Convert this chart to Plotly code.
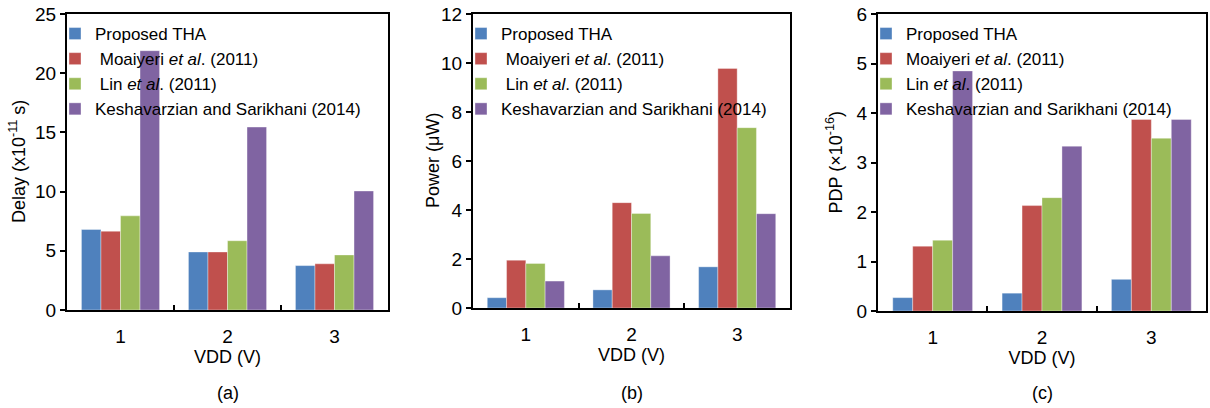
import plotly.graph_objects as go

# ---- data ----
vdd = ["1", "2", "3"]
series_names = [
    "Proposed THA",
    "\u00a0Moaiyeri <i>et al</i>. (2011)",
    "\u00a0Lin <i>et al</i>. (2011)",
    "Keshavarzian and Sarikhani (2014)",
]
series_names_c = [
    "Proposed THA",
    "Moaiyeri <i>et al</i>. (2011)",
    "Lin <i>et al</i>. (2011)",
    "Keshavarzian and Sarikhani (2014)",
]
colors = ["#4F81BD", "#C0504D", "#9BBB59", "#8064A2"]

delay_proposed = [6.8, 4.9, 3.75]
delay_moaiyeri = [6.65, 4.9, 3.9]
delay_lin = [7.95, 5.85, 4.65]
delay_kesh = [21.9, 15.45, 10.05]

power_proposed = [0.42, 0.74, 1.68]
power_moaiyeri = [1.95, 4.3, 9.78]
power_lin = [1.82, 3.86, 7.36]
power_kesh = [1.1, 2.13, 3.85]

pdp_proposed = [0.27, 0.36, 0.64]
pdp_moaiyeri = [1.31, 2.13, 3.87]
pdp_lin = [1.43, 2.29, 3.49]
pdp_kesh = [4.85, 3.33, 3.87]

ytitles = ["Delay (x10<sup>-11</sup> s)", "Power (μW)", "PDP (×10<sup>-16</sup>)"]
xtitle = "VDD (V)"
captions = ["(a)", "(b)", "(c)"]

panels = [
    ("x", "y", "legend", series_names,
     [delay_proposed, delay_moaiyeri, delay_lin, delay_kesh]),
    ("x2", "y2", "legend2", series_names,
     [power_proposed, power_moaiyeri, power_lin, power_kesh]),
    ("x3", "y3", "legend3", series_names_c,
     [pdp_proposed, pdp_moaiyeri, pdp_lin, pdp_kesh]),
]

W, H = 1210, 408
FONT = "Liberation Sans, Arial, sans-serif"

fig = go.Figure()
for xa, ya, lg, names, vals in panels:
    for name, col, v in zip(names, colors, vals):
        fig.add_trace(go.Bar(
            x=vdd, y=v, name=name, xaxis=xa, yaxis=ya, legend=lg,
            marker=dict(color=col, line=dict(color="rgba(255,255,255,0.6)", width=0.6)),
        ))

# plot-area pixel boxes (left, right, top, bottom)
boxes = [(67, 388, 14, 310), (473, 790, 14, 308), (878, 1206, 14, 311)]
yranges = [(0, 25, 5), (0, 12, 2), (0, 6, 1)]
ytitle_x = [18, 433, 835]

axis_common = dict(
    showline=True, linecolor="black", linewidth=2, mirror=True,
    showgrid=False, zeroline=False, automargin=False,
    tickfont=dict(family=FONT, size=19, color="black"),
)

layout = dict(
    width=W, height=H, margin=dict(l=0, r=0, t=0, b=0),
    plot_bgcolor="white", paper_bgcolor="white",
    barmode="group", bargap=0.27, bargroupgap=0,
    font=dict(family=FONT, color="black"),
)
annotations = []
for i, ((l, r, t, b), (y0, y1, dt), yt, cap, tx) in enumerate(
        zip(boxes, yranges, ytitles, captions, ytitle_x)):
    sfx = "" if i == 0 else str(i + 1)
    layout["xaxis" + sfx] = dict(
        axis_common, domain=[l / W, r / W], anchor="y" + sfx,
        type="category", tickson="boundaries", ticks="inside", ticklen=5,
        tickwidth=1.5, tickcolor="black", ticklabelstandoff=8,
        title=dict(text=xtitle, font=dict(family=FONT, size=18), standoff=0),
    )
    layout["yaxis" + sfx] = dict(
        axis_common, domain=[1 - b / H, 1 - t / H], anchor="x" + sfx,
        range=[y0, y1], dtick=dt, tick0=0, ticks="outside", ticklen=5,
        tickwidth=1.5, tickcolor="black",
    )
    layout["legend" + sfx] = dict(
        x=(l - 12) / W, xanchor="left", y=1 - 16 / H, yanchor="top",
        bgcolor="rgba(0,0,0,0)", borderwidth=0, itemwidth=30,
        font=dict(family=FONT, size=17, color="black"),
        tracegroupgap=0,
    )
    annotations.append(dict(
        text=yt, xref="paper", yref="paper", x=tx / W, y=1 - (t + b) / 2 / H,
        xanchor="center", yanchor="middle", textangle=-90, showarrow=False,
        font=dict(family=FONT, size=18, color="black"),
    ))
    annotations.append(dict(
        text=cap, xref="paper", yref="paper", x=(l + r) / 2 / W, y=1 - 393 / H,
        xanchor="center", yanchor="middle", showarrow=False,
        font=dict(family=FONT, size=18, color="black"),
    ))
layout["annotations"] = annotations

fig.update_layout(**layout)
fig.write_html("out.html", config={"displayModeBar": False},
               post_script="document.body.style.margin='0';")
